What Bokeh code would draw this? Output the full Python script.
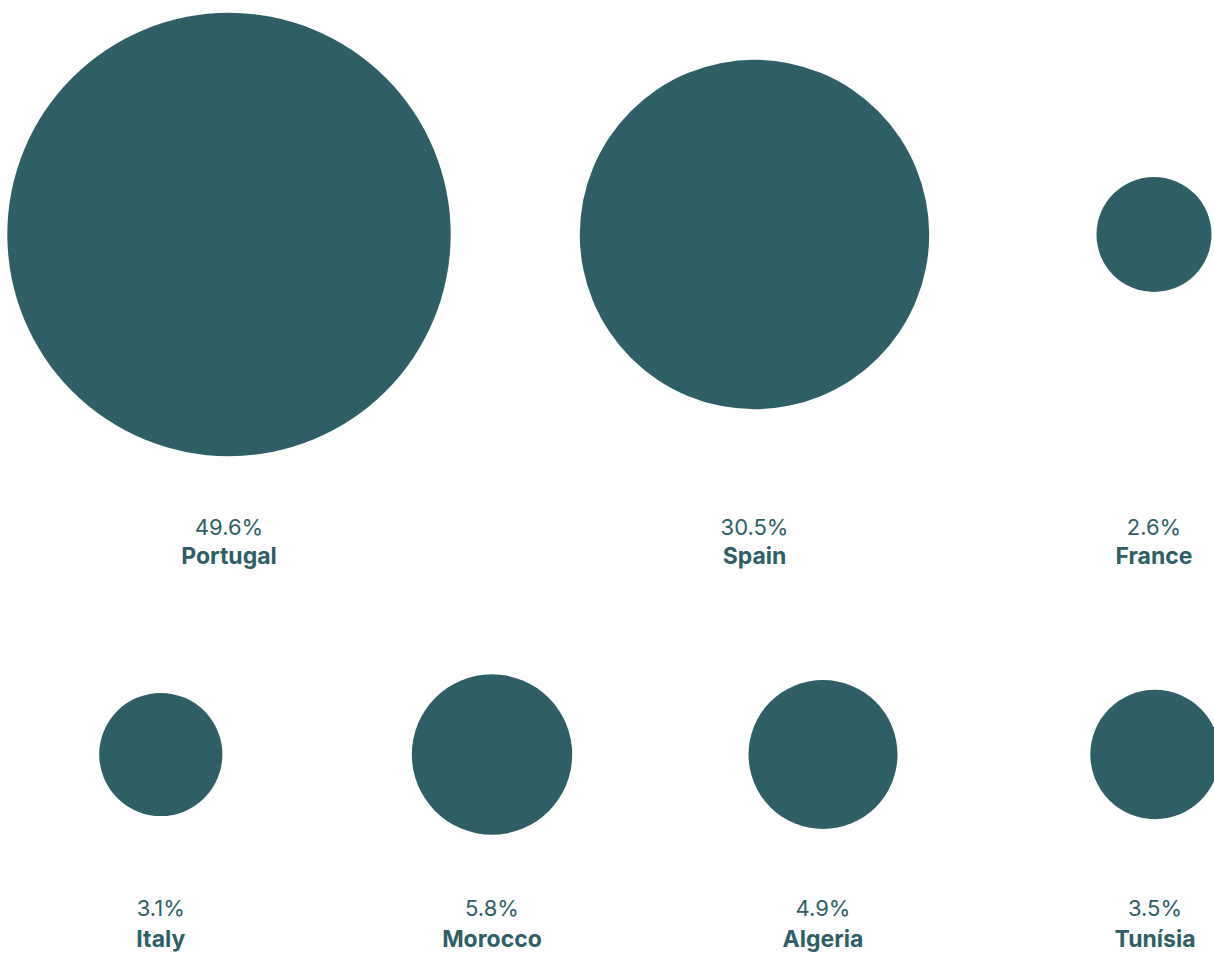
import math
from bokeh.plotting import figure
from bokeh.models import ColumnDataSource, Range1d
from bokeh.core.properties import value
from bokeh.embed import file_html
from bokeh.resources import INLINE

# ---- data ----
countries = ["Portugal", "Spain", "France", "Italy", "Morocco", "Algeria", "Tunísia"]
shares = [49.6, 30.5, 2.6, 3.1, 5.8, 4.9, 3.5]

# ---- layout (reference pixel coordinates) ----
col_x = [228.5, 754, 1153.5, 160.3, 491.5, 822.5, 1154.5]
row_of = [0, 0, 0, 1, 1, 1, 1]
row_cy = [234, 754]
row_pct_y = [526, 907.5]
row_name_y = [555.5, 938]
R_MIN, R_MAX = 57.5, 221.7

COLOR = "#2E5E66"

vmin, vmax = min(shares), max(shares)
radii = [math.sqrt(R_MIN**2 + (v - vmin) / (vmax - vmin) * (R_MAX**2 - R_MIN**2)) for v in shares]

src = ColumnDataSource(dict(
    x=col_x,
    cy=[row_cy[r] for r in row_of],
    r=radii,
    py=[row_pct_y[r] for r in row_of],
    ny=[row_name_y[r] for r in row_of],
    pct=[f"{v:.1f}%" for v in shares],
    name=countries,
))

W, H = 1214, 954
p = figure(width=W, height=H, output_backend="svg", toolbar_location=None,
           x_range=Range1d(0, W), y_range=Range1d(H, 0),
           min_border=0, background_fill_color="white", border_fill_color="white")
p.axis.visible = False
p.grid.visible = False
p.outline_line_color = None

p.circle(x="x", y="cy", radius="r", source=src, fill_color=COLOR, line_color=None)
p.text(x="x", y="py", text="pct", source=src, text_align="center", text_baseline="alphabetic",
       text_font=value("Inter"), text_font_size="22px", text_color=COLOR)
p.text(x="x", y="ny", text="name", source=src, text_align="center", text_baseline="alphabetic",
       text_font=value("Inter"), text_font_style="bold", text_font_size="23px", text_color=COLOR)

open("out.html", "w").write(file_html(p, INLINE))
